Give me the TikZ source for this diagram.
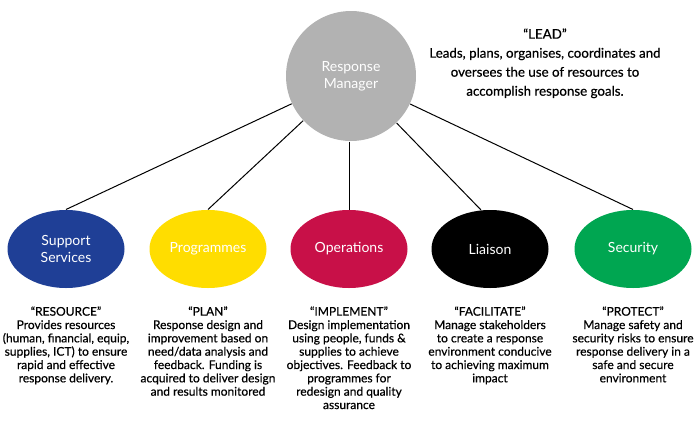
\documentclass[tikz,border=0pt]{standalone}
\usepackage{fontspec}
\setmainfont{Lato}
\newfontfamily\heavyfont{Lato}[FakeBold=0.5]
\usetikzlibrary{shapes.geometric}

\definecolor{rmgrey}{RGB}{178,178,178}
\definecolor{supblue}{RGB}{31,63,150}
\definecolor{progyellow}{RGB}{255,221,0}
\definecolor{opsred}{RGB}{200,16,72}
\definecolor{secgreen}{RGB}{0,166,81}

\tikzset{every picture/.style={line width=0.75pt}}
\tikzset{
  unit/.style={ellipse, minimum width=87.75pt, minimum height=58.5pt, inner sep=0pt,
    text=white, align=center, font=\fontsize{10.5}{12.5}\selectfont},
  duty/.style={anchor=north, align=center, inner sep=0pt, font=\heavyfont\fontsize{9}{10}\selectfont},
  link/.style={draw=black, line width=0.75pt}
}

\begin{document}
\begin{tikzpicture}[x=0.75pt,y=0.75pt,yscale=-1,xscale=1]
\useasboundingbox (0,0) rectangle (700,425);

%Circle [id:rm]
\node (rm) [circle, fill=rmgrey, minimum size=97.5pt, inner sep=0pt, text=white, align=center,
  font=\fontsize{10.5}{13}\selectfont] at (351,76) {Response\\Manager};

%Ellipses
\node (sup) [unit, fill=supblue] at (66,249) {Support\\Services};
\node (prog) [unit, fill=progyellow] at (208,249) {Programmes};
\node (ops) [unit, fill=opsred] at (349,249) {Operations};
\node (lia) [unit, fill=black] at (490,249) {Liaison};
\node (sec) [unit, fill=secgreen] at (633,249) {Security};

%Straight Lines
\draw [link] (rm) -- (sup.north);
\draw [link] (rm) -- (prog.north);
\draw [link] (rm.south -| ops.north) -- (ops.north);
\draw [link] (rm) -- (lia.103);
\draw [link] (rm) -- (sec.north);

% Text Node
\node (lead) [anchor=north, align=center, inner sep=0pt, font=\heavyfont\fontsize{10}{14.25}\selectfont]
  at (545,28) {“LEAD”\\
  Leads, plans, organises, coordinates and\\
  oversees the use of resources to\\
  accomplish response goals.};
% Text Node
\node (supduty) [duty] at (66,306) {“RESOURCE”\\
  Provides resources\\
  (human, financial, equip,\\
  supplies, ICT) to ensure\\
  rapid and effective\\
  response delivery.};
% Text Node
\node (progduty) [duty] at (208,306) {“PLAN”\\
  Response design and\\
  improvement based on\\
  need/data analysis and\\
  feedback. Funding is\\
  acquired to deliver design\\
  and results monitored};
% Text Node
\node (opsduty) [duty] at (349,306) {“IMPLEMENT”\\
  Design implementation\\
  using people, funds \&\\
  supplies to achieve\\
  objectives. Feedback to\\
  programmes for\\
  redesign and quality\\
  assurance};
% Text Node
\node (liaduty) [duty] at (490,306) {“FACILITATE”\\
  Manage stakeholders\\
  to create a response\\
  environment conducive\\
  to achieving maximum\\
  impact};
% Text Node
\node (secduty) [duty] at (633,306) {“PROTECT”\\
  Manage safety and\\
  security risks to ensure\\
  response delivery in a\\
  safe and secure\\
  environment};

\end{tikzpicture}
\end{document}
